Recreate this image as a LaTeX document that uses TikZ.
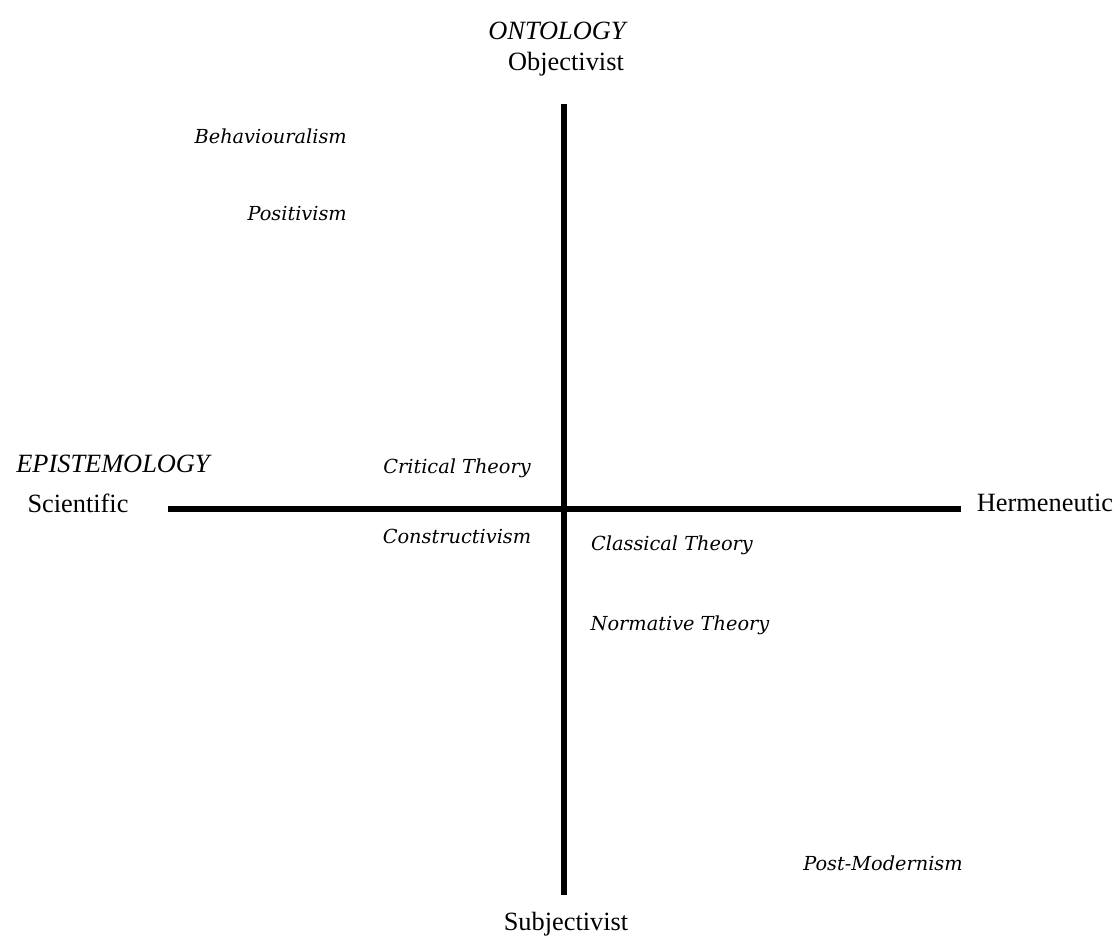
\documentclass[tikz,border=0pt]{standalone}
\usepackage{fontspec}
\setmainfont{Liberation Serif}
\newfontfamily\slabfont{DejaVu Serif}
\tikzset{
	pole/.style={font=\fontsize{15}{18}\selectfont},
	axisname/.style={font=\fontsize{15}{18}\selectfont\itshape},
	theory/.style={font=\fontsize{11}{13}\selectfont\slabfont\itshape},
	axis/.style={line width=3.6pt}
}
\begin{document}
\begin{tikzpicture}[x=0.02cm,y=-0.02cm]
			
			% frame
			\useasboundingbox (0,0) rectangle (1117,945);
			
			% axes
			\coordinate (top) at (564,104);
			\coordinate (bottom) at (564,895);
			\coordinate (left) at (168,509);
			\coordinate (right) at (961,509);
			\draw[axis] (top) -- (bottom);
			\draw[axis] (left) -- (right);
			
			% ontology (vertical)
			\node[axisname] (ontology) at (557,31) {ONTOLOGY};
			\node[pole] (objectivist) at (566,64) {Objectivist};
			\node[pole] (subjectivist) at (566,924) {Subjectivist};
			
			% epistemology (horizontal)
			\node[axisname] (epistemology) at (113,464) {EPISTEMOLOGY};
			\node[pole] (scientific) at (78,503) {Scientific};
			\node[pole] (hermeneutic) at (1045,503) {Hermeneutic};
			
			% theories
			\node[theory,anchor=east] (behaviouralism) at (353,136) {Behaviouralism};
			\node[theory,anchor=east] (positivism) at (353,214) {Positivism};
			\node[theory] (critical) at (457,468) {Critical Theory};
			\node[theory] (constructivism) at (457,536) {Constructivism};
			\node[theory] (classical) at (672,545) {Classical Theory};
			\node[theory] (normative) at (680,625) {Normative Theory};
			\node[theory] (postmodernism) at (883,863) {Post-Modernism};
			
		\end{tikzpicture}
\end{document}
